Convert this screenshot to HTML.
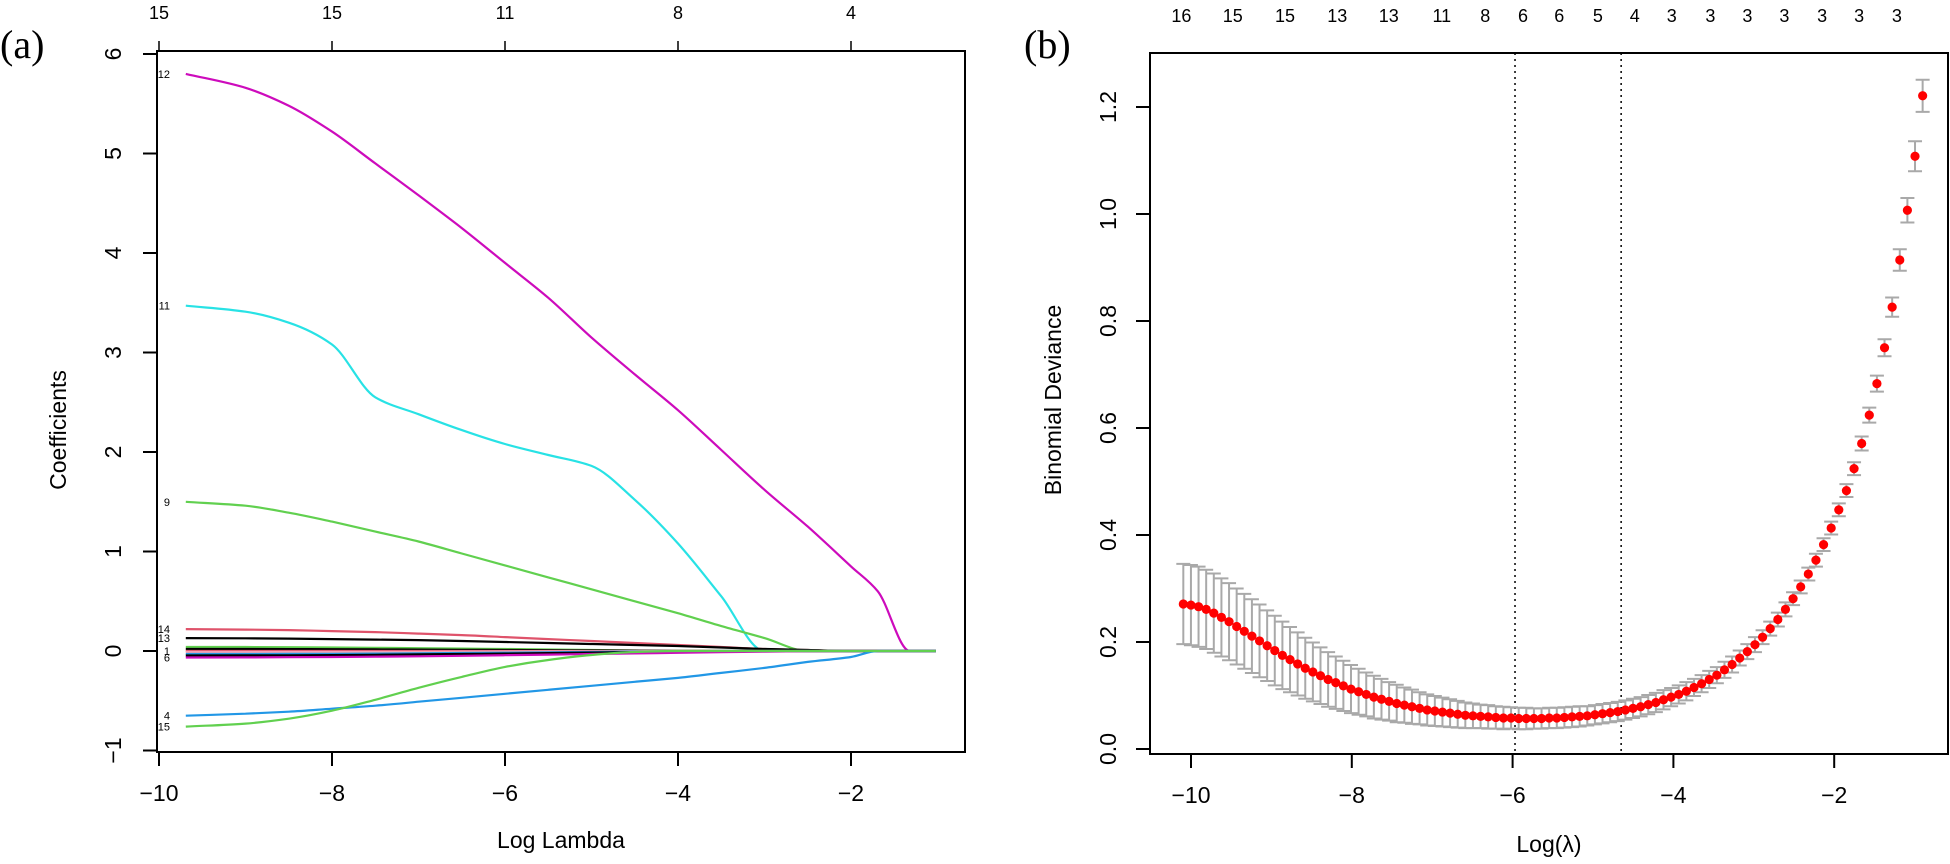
<!DOCTYPE html>
<html><head><meta charset="utf-8">
<style>
html,body{margin:0;padding:0;background:#fff;}
svg{display:block;}
text{font-family:"Liberation Sans Narrow","Liberation Sans",sans-serif;fill:#000;}
.panel-tag{font-family:"Liberation Serif",serif;}
</style></head>
<body>
<svg id="chart" width="1950" height="864" viewBox="0 0 1950 864" xmlns="http://www.w3.org/2000/svg">
<text class="panel-tag" x="0" y="58" font-size="40">(a)</text>
<text class="panel-tag" x="1024" y="58" font-size="40">(b)</text>
<g id="pa"></g>
<g id="pb"></g>
</svg>
<script>
// ---------- Panel (a) data ----------
const gridLog = [-9.69,-9,-8.5,-8,-7.5,-7,-6.5,-6,-5.5,-5,-4.5,-4,-3.5,-3,-2.5,-2,-1.69,-1.32,-1.02];
const coef12 = [5.8,5.66,5.48,5.22,4.9,4.58,4.25,3.9,3.55,3.15,2.78,2.42,2.02,1.62,1.25,0.85,0.6,0,0];
const coef11 = [3.47,3.41,3.3,3.08,2.55,2.38,2.22,2.08,1.97,1.86,1.52,1.08,0.55,0,0,0,0,0,0];
const coef9  = [1.5,1.46,1.39,1.3,1.2,1.1,0.98,0.86,0.74,0.62,0.5,0.38,0.25,0.13,0,0,0,0,0];
const coef14 = [0.22,0.215,0.21,0.2,0.19,0.175,0.16,0.14,0.12,0.1,0.08,0.06,0.04,0.02,0.01,0,0,0,0];
const coef13 = [0.13,0.128,0.125,0.12,0.115,0.11,0.1,0.09,0.08,0.07,0.06,0.05,0.035,0.02,0.01,0,0,0,0];
const coefG2 = [0.04,0.04,0.038,0.035,0.032,0.028,0.024,0.02,0.015,0.01,0.005,0,0,0,0,0,0,0,0];
const coefK2 = [0.02,0.02,0.019,0.018,0.016,0.014,0.012,0.01,0.008,0.006,0.004,0.002,0,0,0,0,0,0,0];
const coefR2 = [0.0,0.0,0.0,0.0,0.0,0.0,0.0,0.0,0.0,0.0,0.0,0,0,0,0,0,0,0,0];
const coefP2 = [-0.01,-0.01,-0.01,-0.01,-0.01,-0.008,-0.006,-0.005,-0.004,-0.003,-0.002,0,0,0,0,0,0,0,0];
const coefB2 = [-0.03,-0.03,-0.029,-0.028,-0.026,-0.024,-0.02,-0.017,-0.013,-0.01,-0.006,-0.003,0,0,0,0,0,0,0];
const coefK3 = [-0.045,-0.044,-0.043,-0.041,-0.038,-0.034,-0.03,-0.026,-0.021,-0.016,-0.011,-0.006,-0.002,0,0,0,0,0,0];
const coefM2 = [-0.065,-0.064,-0.062,-0.06,-0.057,-0.053,-0.048,-0.042,-0.036,-0.03,-0.024,-0.018,-0.012,-0.006,-0.002,0,0,0,0];
const coef4  = [-0.65,-0.63,-0.61,-0.58,-0.55,-0.51,-0.47,-0.43,-0.39,-0.35,-0.31,-0.27,-0.22,-0.17,-0.11,-0.06,0,0,0];
const coef15 = [-0.76,-0.73,-0.68,-0.6,-0.49,-0.37,-0.26,-0.16,-0.09,-0.04,-0.01,0,0,0,0,0,0,0,0];
const pathLabels = ["12","11","9","14","13","","","1","","","","6","4","15"];
const topLogA = [-10,-8,-6,-4,-2];
const topNzA = ["15","15","11","8","4"];
const xTicksA = [-10,-8,-6,-4,-2];
const yTicksA = [-1,0,1,2,3,4,5,6];

// ---------- Panel (b) data (largest lambda first) ----------
const logStart = -0.9, logStep = -0.0948;
const cvm = [1.221,1.108,1.007,0.914,0.826,0.750,0.683,0.624,0.571,0.524,0.483,0.447,0.413,0.382,0.353,0.327,0.303,0.281,0.261,0.242,0.225,0.209,0.195,0.182,0.170,0.158,0.148,0.138,0.130,0.122,0.115,0.108,0.102,0.097,0.092,0.087,0.083,0.079,0.076,0.073,0.070,0.068,0.066,0.064,0.062,0.061,0.060,0.059,0.058,0.058,0.057,0.057,0.057,0.057,0.058,0.058,0.059,0.060,0.061,0.062,0.063,0.065,0.067,0.069,0.071,0.073,0.076,0.079,0.082,0.085,0.089,0.093,0.097,0.102,0.107,0.112,0.118,0.124,0.130,0.137,0.144,0.151,0.159,0.167,0.175,0.184,0.193,0.202,0.211,0.220,0.229,0.238,0.246,0.254,0.261,0.266,0.269,0.271];
const cvsd = [0.030,0.028,0.023,0.020,0.018,0.016,0.015,0.014,0.013,0.012,0.012,0.012,0.012,0.012,0.012,0.012,0.012,0.012,0.013,0.013,0.013,0.013,0.014,0.014,0.014,0.015,0.015,0.015,0.016,0.016,0.016,0.017,0.017,0.017,0.018,0.018,0.018,0.018,0.018,0.018,0.018,0.018,0.018,0.018,0.018,0.019,0.019,0.019,0.019,0.019,0.019,0.019,0.02,0.02,0.02,0.021,0.021,0.022,0.022,0.023,0.024,0.025,0.026,0.027,0.028,0.029,0.030,0.032,0.033,0.035,0.036,0.038,0.040,0.041,0.043,0.045,0.047,0.049,0.051,0.053,0.055,0.057,0.059,0.061,0.063,0.065,0.066,0.068,0.069,0.070,0.071,0.072,0.073,0.074,0.074,0.075,0.075,0.075];
const topLogB = [-10.12,-9.48,-8.83,-8.18,-7.54,-6.88,-6.34,-5.87,-5.42,-4.94,-4.48,-4.02,-3.54,-3.08,-2.62,-2.15,-1.69,-1.22];
const topNzB = ["16","15","15","13","13","11","8","6","6","5","4","3","3","3","3","3","3","3"];
const vlines = [-5.97,-4.65];
const xTicksB = [-10,-8,-6,-4,-2];
const yTicksB = [0,0.2,0.4,0.6,0.8,1.0,1.2];

const NS = "http://www.w3.org/2000/svg";
function mk(parent, tag, attrs){
  const e = document.createElementNS(NS, tag);
  for (const k in attrs) e.setAttribute(k, attrs[k]);
  parent.appendChild(e);
  return e;
}
// monotone cubic (Fritsch-Carlson) path: no overshoot
function monoPath(P){
  const n = P.length, dx=[], m=[], t=[];
  for (let i=0;i<n-1;i++){ dx[i]=P[i+1][0]-P[i][0]; m[i]=(P[i+1][1]-P[i][1])/dx[i]; }
  t[0]=m[0]; t[n-1]=m[n-2];
  for (let i=1;i<n-1;i++){
    if (m[i-1]*m[i] <= 0) t[i]=0;
    else { const w1=2*dx[i]+dx[i-1], w2=dx[i]+2*dx[i-1]; t[i]=(w1+w2)/(w1/m[i-1]+w2/m[i]); }
  }
  let d = "M"+P[0][0].toFixed(1)+","+P[0][1].toFixed(1);
  for (let i=0;i<n-1;i++){
    const h=dx[i]/3;
    d += " C"+(P[i][0]+h).toFixed(1)+","+(P[i][1]+t[i]*h).toFixed(1)+" "+(P[i+1][0]-h).toFixed(1)+","+(P[i+1][1]-t[i+1]*h).toFixed(1)+" "+P[i+1][0].toFixed(1)+","+P[i+1][1].toFixed(1);
  }
  return d;
}

// ---------- Panel (a) ----------
(function(){
  const g = document.getElementById('pa');
  const L=157, R=965, T=51, B=752;
  const xA = v => 159 + (v + 10) * 86.5;
  const yA = v => 651 - v * 99.5;
  const series = [
    {d:coef12,c:"#CD0BBC",n:"path-12"},{d:coef11,c:"#28E2E5",n:"path-11"},{d:coef9,c:"#61D04F",n:"path-9"},
    {d:coef14,c:"#DF536B",n:"path-14"},{d:coef13,c:"#000000",n:"path-13"},{d:coefG2,c:"#61D04F",n:"path-green-small"},
    {d:coefK2,c:"#000000",n:"path-black-small"},{d:coefR2,c:"#DF536B",n:"path-red-small"},{d:coefP2,c:"#F5A0B4",n:"path-pink-small"},
    {d:coefB2,c:"#2297E6",n:"path-blue-small"},{d:coefK3,c:"#000000",n:"path-black-neg"},{d:coefM2,c:"#CD0BBC",n:"path-magenta-small"},
    {d:coef4,c:"#2297E6",n:"path-4"},{d:coef15,c:"#61D04F",n:"path-15"}
  ];
  series.forEach((s,i)=>{
    const P = s.d.map((v,j)=>[xA(gridLog[j]), yA(v)]);
    const pl = mk(g,'path',{d:monoPath(P),fill:"none",stroke:s.c,"stroke-width":2.2,"stroke-linejoin":"round"});
    
    
    if (pathLabels[i]) {
      const t = mk(g,'text',{x:170,y:yA(s.d[0])+4,"font-size":11,"text-anchor":"end"});
      t.textContent = pathLabels[i];
      
      
    }
  });
  const box = mk(g,'rect',{x:L,y:T,width:R-L,height:B-T,fill:"none",stroke:"#000","stroke-width":2});
  
  
  xTicksA.forEach(v=>{
    const x = xA(v);
    mk(g,'line',{x1:x,x2:x,y1:B,y2:B+14,stroke:"#000","stroke-width":2});
    const t = mk(g,'text',{x:x,y:801,"font-size":23,"text-anchor":"middle"});
    t.textContent = v<0 ? "\u2212"+Math.abs(v) : String(v);
    
    
  });
  yTicksA.forEach(v=>{
    const y = yA(v);
    mk(g,'line',{x1:L-14,x2:L,y1:y,y2:y,stroke:"#000","stroke-width":2});
    const t = mk(g,'text',{x:0,y:0,"font-size":23,"text-anchor":"middle",transform:`translate(121,${y}) rotate(-90)`});
    t.textContent = v<0 ? "\u2212"+Math.abs(v) : String(v);
    
    
  });
  topLogA.forEach((v,i)=>{
    const x = xA(v);
    mk(g,'line',{x1:x,x2:x,y1:T-10,y2:T,stroke:"#000","stroke-width":1.5});
    const t = mk(g,'text',{x:x,y:19,"font-size":18,"text-anchor":"middle"});
    t.textContent = topNzA[i];
    
    
  });
  const xt = mk(g,'text',{x:(L+R)/2,y:848,"font-size":23,"text-anchor":"middle"});
  xt.textContent = "Log Lambda";
  
  
  const yt = mk(g,'text',{x:0,y:0,"font-size":23,"text-anchor":"middle",transform:"translate(66,430) rotate(-90)"});
  yt.textContent = "Coefficients";
  
  
})();

// ---------- Panel (b) ----------
(function(){
  const g = document.getElementById('pb');
  const L=1150, R=1948, T=53, B=754;
  const xB = v => 1191 + (v + 10) * 80.4;
  const yB = v => 749 - v * 535;
  vlines.forEach(v=>{
    const l = mk(g,'line',{x1:xB(v),x2:xB(v),y1:T,y2:B,stroke:"#000","stroke-width":1.5,"stroke-dasharray":"2,4"});
    
    
  });
  cvm.forEach((m,i)=>{
    const lg = logStart + logStep*i;
    const x = xB(lg), yu = yB(m+cvsd[i]), yl = yB(m-cvsd[i]);
    const eb = mk(g,'path',{d:`M${x},${yu}V${yl}M${x-7},${yu}H${x+7}M${x-7},${yl}H${x+7}`,stroke:"#A9A9A9","stroke-width":2,fill:"none"});
    
    
  });
  cvm.forEach((m,i)=>{
    const lg = logStart + logStep*i;
    const c = mk(g,'ellipse',{cx:xB(lg),cy:yB(m),rx:4.6,ry:4.6,fill:"#FF0000"});
    
    
  });
  const box = mk(g,'rect',{x:L,y:T,width:R-L,height:B-T,fill:"none",stroke:"#000","stroke-width":2});
  
  
  xTicksB.forEach(v=>{
    const x = xB(v);
    mk(g,'line',{x1:x,x2:x,y1:B,y2:B+14,stroke:"#000","stroke-width":2});
    const t = mk(g,'text',{x:x,y:803,"font-size":23,"text-anchor":"middle"});
    t.textContent = "\u2212"+Math.abs(v);
    
    
  });
  yTicksB.forEach(v=>{
    const y = yB(v);
    mk(g,'line',{x1:L-14,x2:L,y1:y,y2:y,stroke:"#000","stroke-width":2});
    const t = mk(g,'text',{x:0,y:0,"font-size":23,"text-anchor":"middle",transform:`translate(1116,${y}) rotate(-90)`});
    t.textContent = v.toFixed(1);
    
    
  });
  topLogB.forEach((v,i)=>{
    const t = mk(g,'text',{x:xB(v),y:22,"font-size":18,"text-anchor":"middle"});
    t.textContent = topNzB[i];
    
    
  });
  const xt = mk(g,'text',{x:(L+R)/2,y:852,"font-size":23,"text-anchor":"middle"});
  xt.textContent = "Log(\u03BB)";
  
  
  const yt = mk(g,'text',{x:0,y:0,"font-size":23,"text-anchor":"middle",transform:"translate(1061,400) rotate(-90)"});
  yt.textContent = "Binomial Deviance";
  
  
})();
</script>
</body></html>
